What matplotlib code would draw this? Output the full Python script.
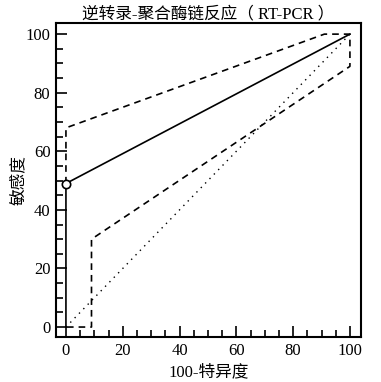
import matplotlib
matplotlib.use("Agg")
import matplotlib.pyplot as plt
from matplotlib.ticker import MultipleLocator

plt.rcParams['font.family'] = ['Liberation Serif', 'Noto Sans CJK SC']

# SROC curve (100-specificity vs sensitivity)
curve_x = [0, 0, 100]
curve_y = [0, 49, 100]

# confidence region outline
upper_x = [0, 0, 91, 100, 100, 9, 9, 0]
upper_y = [49, 68, 100, 100, 89, 30, 0, 0]

# chance line
diag_x = [0, 100]
diag_y = [0, 100]

point_x = [0]
point_y = [49]

fig = plt.figure(figsize=(3.81, 3.82), dpi=100)
ax = fig.add_axes([56 / 381, 45 / 382, 305 / 381, 314 / 382])

ax.plot(diag_x, diag_y, color="black", linestyle=(0, (1, 3.5)), linewidth=1)
ax.plot(upper_x, upper_y, color="black", linestyle=(0, (4, 3)), linewidth=1.2)
ax.plot(curve_x, curve_y, color="black", linewidth=1.2)
ax.plot(point_x, point_y, marker="o", markersize=6, markerfacecolor="white",
        markeredgecolor="black", markeredgewidth=1.2, linestyle="none", zorder=5)

ax.set_xlim(-3.5, 103.9)
ax.set_ylim(-3.4, 103.8)
ax.xaxis.set_major_locator(MultipleLocator(20))
ax.xaxis.set_minor_locator(MultipleLocator(5))
ax.yaxis.set_major_locator(MultipleLocator(20))
ax.yaxis.set_minor_locator(MultipleLocator(5))
ax.tick_params(which="both", direction="in", top=False, right=False, labelsize=12, width=1.2)
ax.tick_params(which="major", length=8, pad=4)
ax.tick_params(which="minor", length=5)
for s in ax.spines.values():
    s.set_linewidth(1.5)

ax.set_title("逆转录-聚合酶链反应（ RT-PCR ）", fontsize=12, pad=3)
ax.set_xlabel("100-特异度", fontsize=12, labelpad=4)
ax.set_ylabel("敏感度", fontsize=12, labelpad=-1)

plt.savefig("out.png", dpi=100)
